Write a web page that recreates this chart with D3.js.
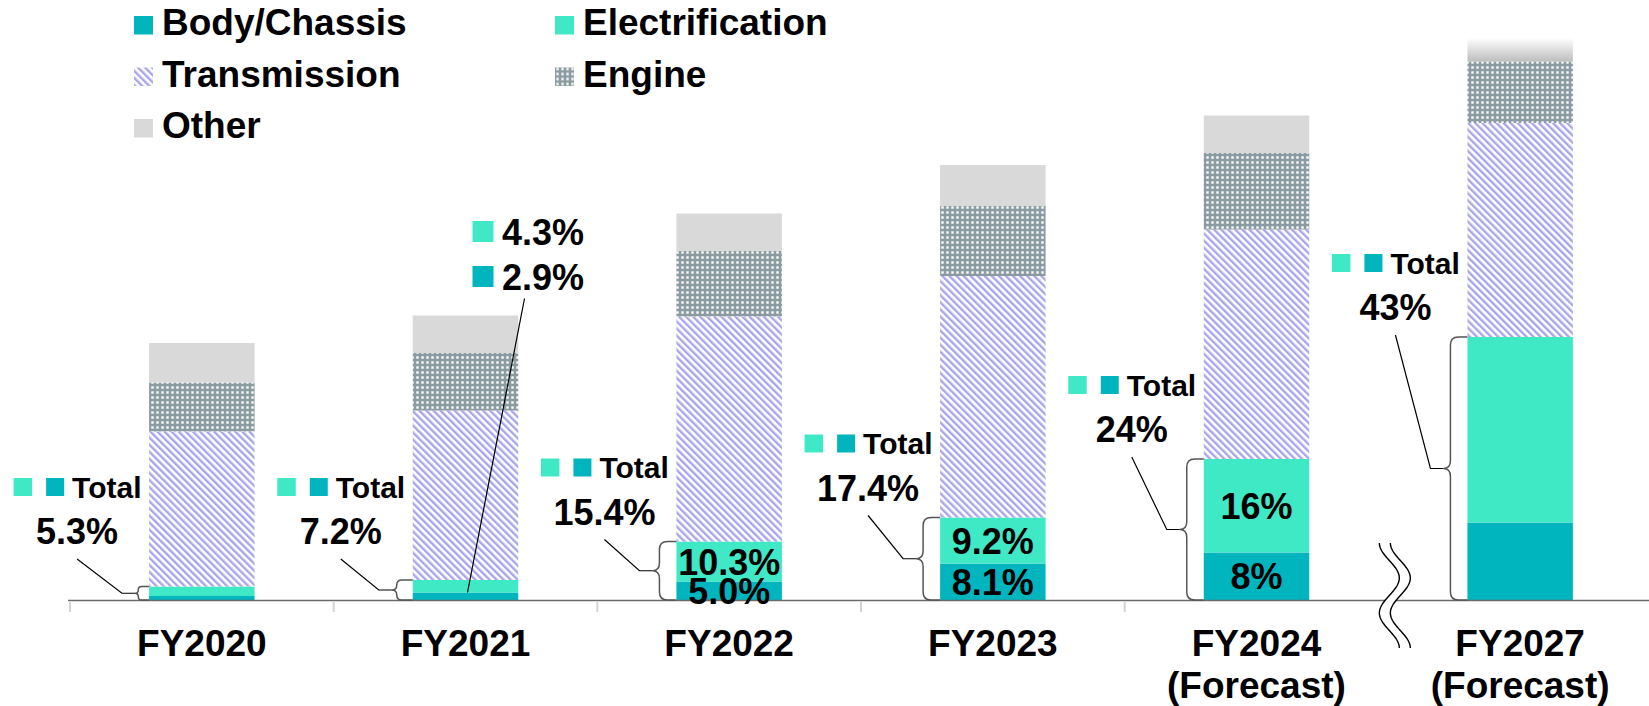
<!DOCTYPE html>
<html>
<head>
<meta charset="utf-8">
<script src="https://cdn.jsdelivr.net/npm/d3@7"></script>
<style>
  body { margin: 0; background: #fff; }
  svg text { font-family: "Liberation Sans", Arial, sans-serif; font-weight: bold; fill: #000; }
</style>
</head>
<body>
<svg id="chart" width="1649" height="706"></svg>
<script>
// values (arbitrary units, stacked bottom to top)
const categories = ["FY2020", "FY2021", "FY2022", "FY2023", "FY2024", "FY2027"];
const categoryLines = [["FY2020"], ["FY2021"], ["FY2022"], ["FY2023"], ["FY2024", "(Forecast)"], ["FY2027", "(Forecast)"]];
const seriesKeys = ["body", "elec", "trans", "engine", "other"];
const seriesNames = ["Body/Chassis", "Electrification", "Transmission", "Engine", "Other"];

const bodyChassis     = [0.8, 1.5, 3.7, 7.3, 9.5, 15.5];
const electrification = [1.9, 2.5, 8.0, 9.2, 18.7, 37.1];
const transmission    = [31.0, 33.9, 45.0, 48.3, 45.9, 42.8];
const engine          = [9.8, 11.5, 13.1, 14.0, 15.3, 12.3];
const other           = [7.9, 7.5, 7.5, 8.2, 7.5, 4.7];

const totalShare = ["5.3%", "7.2%", "15.4%", "17.4%", "24%", "43%"];
const bodyShare  = [null, "2.9%", "5.0%", "8.1%", "8%", null];
const elecShare  = [null, "4.3%", "10.3%", "9.2%", "16%", null];

const cutOffCategory = "FY2027";   // bar drawn fading out at the top
const breakBefore = "FY2027";      // axis break

const colors = { body: "#00b5be", elec: "#40e9c5", other: "#d9d9d9" };

const svg = d3.select("#chart");
const defs = svg.append("defs");

// diagonal stripes for Transmission
const pTrans = defs.append("pattern")
    .attr("id", "pTrans")
    .attr("patternUnits", "userSpaceOnUse")
    .attr("width", 5).attr("height", 5)
    .attr("patternTransform", "rotate(-45)");
pTrans.append("rect").attr("width", 5).attr("height", 5).attr("fill", "#fff");
pTrans.append("rect").attr("width", 2.4).attr("height", 5).attr("fill", "#aaa5e8");

// small white squares on grey for Engine
const pEngine = defs.append("pattern")
    .attr("id", "pEngine")
    .attr("patternUnits", "userSpaceOnUse")
    .attr("width", 5).attr("height", 5);
pEngine.append("rect").attr("width", 5).attr("height", 5).attr("fill", "#8a9ba1");
pEngine.append("rect").attr("x", 1.3).attr("y", 1.3).attr("width", 2.4).attr("height", 2.4).attr("fill", "#fff");

const gOther = defs.append("linearGradient")
    .attr("id", "gOther").attr("x1", 0).attr("y1", 0).attr("x2", 0).attr("y2", 1);
gOther.append("stop").attr("offset", "0%").attr("stop-color", "#ffffff");
gOther.append("stop").attr("offset", "100%").attr("stop-color", "#bdbdbd");

const fills = { body: colors.body, elec: colors.elec, trans: "url(#pTrans)", engine: "url(#pEngine)", other: colors.other };

const x = d3.scaleBand()
    .domain(categories)
    .range([70, 1652])
    .paddingInner(0.6)
    .paddingOuter(0.3);

const y = d3.scaleLinear()
    .domain([0, 112])
    .range([600, 40]);

const rows = categories.map((c, i) => ({
  category: c,
  body: bodyChassis[i], elec: electrification[i], trans: transmission[i],
  engine: engine[i], other: other[i]
}));

const stacked = d3.stack().keys(seriesKeys)(rows);

// bars
svg.append("g")
  .selectAll("g")
  .data(stacked)
  .join("g")
    .attr("data-key", d => d.key)
  .selectAll("rect")
  .data(d => d.map(v => Object.assign(v, { key: d.key })))
  .join("rect")
    .attr("x", d => x(d.data.category))
    .attr("width", x.bandwidth())
    .attr("y", d => y(d[1]))
    .attr("height", d => y(d[0]) - y(d[1]))
    .attr("fill", d => (d.key === "other" && d.data.category === cutOffCategory) ? "url(#gOther)" : fills[d.key]);

// axis line and ticks
const cellStart = c => x(c) - x.step() * x.paddingOuter();
svg.append("line")
    .attr("x1", 68).attr("x2", 1649)
    .attr("y1", y(0) + 0.5).attr("y2", y(0) + 0.5)
    .attr("stroke", "#6b6b6b").attr("stroke-width", 1.5);

svg.append("g")
  .selectAll("line")
  .data(categories.filter(c => c !== breakBefore))
  .join("line")
    .attr("x1", d => cellStart(d)).attr("x2", d => cellStart(d))
    .attr("y1", y(0) + 2).attr("y2", y(0) + 12)
    .attr("stroke", "#d4d4d4").attr("stroke-width", 2);

// axis break squiggle
(function () {
  const bx = cellStart(breakBefore);
  const top = 543, len = 105;
  const pts = d3.range(0, 43).map(t => {
    const yy = top + t * len / 42;
    return [bx + 1 - 10 * Math.cos(Math.PI * (yy - top) / 35), yy];
  });
  const shifted = pts.map(p => [p[0] + 11, p[1]]);
  const line = d3.line();
  svg.append("path")
      .attr("d", line(pts.concat(shifted.slice().reverse())) + "Z")
      .attr("fill", "#fff");
  [pts, shifted].forEach(p => {
    svg.append("path")
        .attr("d", line(p))
        .attr("fill", "none")
        .attr("stroke", "#000")
        .attr("stroke-width", 1.4);
  });
})();

// category labels
const catG = svg.append("g")
  .selectAll("text")
  .data(categories)
  .join("text")
    .attr("x", d => x(d) + x.bandwidth() / 2)
    .attr("y", 656)
    .attr("text-anchor", "middle")
    .style("font-size", "37px");
catG.selectAll("tspan")
  .data((d, i) => categoryLines[i])
  .join("tspan")
    .attr("x", function () { return d3.select(this.parentNode).attr("x"); })
    .attr("dy", (d, i) => i === 0 ? 0 : 42)
    .text(d => d);

// legend
const legend = svg.append("g")
  .selectAll("g")
  .data(seriesKeys)
  .join("g")
    .attr("transform", (d, i) => `translate(${134 + (i % 2) * 421},${35 + Math.floor(i / 2) * 51.5})`);
legend.append("rect")
    .attr("x", 0).attr("y", -19)
    .attr("width", 19).attr("height", 18.5)
    .attr("fill", d => fills[d]);
legend.append("text")
    .attr("x", 28).attr("y", 0)
    .style("font-size", "37px")
    .text((d, i) => seriesNames[i]);

// brace + "Total" annotation for each bar
function bracePath(xb, y0, y1) {
  const h = y1 - y0;
  const w = Math.min(17, h * 0.8);
  const xv = xb - w, ym = (y0 + y1) / 2;
  const r = Math.min(8, h / 4), d = Math.min(7, h * 0.25);
  return `M${xb},${y0} L${xv + r},${y0} Q${xv},${y0} ${xv},${y0 + r} L${xv},${ym - r} Q${xv},${ym} ${xv - d},${ym}` +
         ` Q${xv},${ym} ${xv},${ym + r} L${xv},${y1 - r} Q${xv},${y1} ${xv + r},${y1} L${xb},${y1}`;
}

categories.forEach((c, i) => {
  const xb = x(c);
  const y0 = y(bodyChassis[i] + electrification[i]);
  const y1 = y(0);
  const h = y1 - y0;
  const w = Math.min(17, h * 0.8);
  const d = Math.min(7, h * 0.25);
  const tipX = xb - w - d, ym = (y0 + y1) / 2;

  svg.append("path")
      .attr("d", bracePath(xb, y0, y1))
      .attr("fill", "none")
      .attr("stroke", "#555")
      .attr("stroke-width", 1.5);

  const cx = xb - 72;
  const by = Math.min(y0 - 17, 544);

  svg.append("path")
      .attr("d", d3.line()([[cx, by + 15], [tipX - 13, ym], [tipX, ym]]))
      .attr("fill", "none")
      .attr("stroke", "#000")
      .attr("stroke-width", 1.2);

  const g = svg.append("g");
  g.append("rect").attr("x", cx - 63.5).attr("y", by - 66).attr("width", 18.5).attr("height", 18).attr("fill", colors.elec);
  g.append("rect").attr("x", cx - 31).attr("y", by - 66).attr("width", 18).attr("height", 18).attr("fill", colors.body);
  g.append("text").attr("x", cx - 5).attr("y", by - 46.5).style("font-size", "30px").text("Total");
  g.append("text").attr("x", cx).attr("y", by).attr("text-anchor", "middle").style("font-size", "36px").text(totalShare[i]);

  if (bodyShare[i] === null) return;

  const segH = Math.min(y(0) - y(bodyChassis[i]), y(bodyChassis[i]) - y0);
  const mid = xb + x.bandwidth() / 2;
  if (segH < 12) {
    // too thin: call the shares out above the bar
    const top = y(bodyChassis[i] + electrification[i] + transmission[i] + engine[i] + other[i]);
    const b1 = top - 71, b2 = b1 + 45;
    [[elecShare[i], colors.elec, b1], [bodyShare[i], colors.body, b2]].forEach(([t, col, b]) => {
      svg.append("rect").attr("x", mid + 7).attr("y", b - 23.5).attr("width", 21).attr("height", 21).attr("fill", col);
      svg.append("text").attr("x", mid + 36.5).attr("y", b).style("font-size", "36px").text(t);
    });
    svg.append("line")
        .attr("x1", mid + 59).attr("y1", b2 + 9)
        .attr("x2", mid + 2).attr("y2", y(bodyChassis[i]))
        .attr("stroke", "#000").attr("stroke-width", 1.2);
  } else {
    svg.append("text")
        .attr("x", mid).attr("y", (y(bodyChassis[i]) + y0) / 2 + 13)
        .attr("text-anchor", "middle").style("font-size", "36px")
        .text(elecShare[i]);
    svg.append("text")
        .attr("x", mid).attr("y", (y(0) + y(bodyChassis[i])) / 2 + 13)
        .attr("text-anchor", "middle").style("font-size", "36px")
        .text(bodyShare[i]);
  }
});
</script>
</body>
</html>
